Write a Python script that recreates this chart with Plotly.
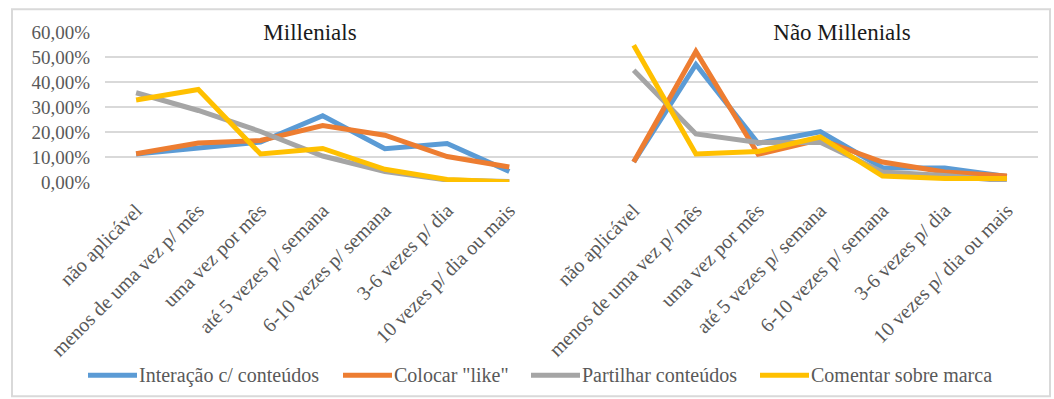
import plotly.graph_objects as go

# Frequency categories (shared by both groups)
categories = [
    "não aplicável",
    "menos de uma vez p/ mês",
    "uma vez por mês",
    "até 5 vezes p/ semana",
    "6-10 vezes p/ semana",
    "3-6 vezes p/ dia",
    "10 vezes p/ dia ou mais",
]

series_names = ["Interação c/ conteúdos", 'Colocar "like"', "Partilhar conteúdos", "Comentar sobre marca"]
series_colors = ["#5B9BD5", "#ED7D31", "#A5A5A5", "#FFC000"]

# Millenials (%)
interacao_mil = [11.2, 13.8, 16.0, 26.5, 13.3, 15.4, 4.2]
like_mil = [11.3, 15.6, 16.6, 22.6, 18.7, 10.2, 6.0]
partilhar_mil = [35.7, 28.6, 20.2, 10.4, 4.2, 0.8, 0.2]
comentar_mil = [32.8, 37.0, 11.2, 13.4, 5.1, 1.0, 0.0]

# Não Millenials (%)
interacao_nao = [8.0, 47.0, 15.5, 20.1, 5.7, 5.6, 2.2]
like_nao = [8.0, 52.2, 11.1, 17.0, 8.0, 4.0, 2.4]
partilhar_nao = [44.7, 19.2, 15.8, 15.9, 4.0, 2.6, 0.4]
comentar_nao = [54.7, 11.2, 12.2, 18.0, 2.4, 1.4, 1.4]

# Y ticks
y_ticks = [0, 10, 20, 30, 40, 50, 60]
y_tick_labels = ["0,00%", "10,00%", "20,00%", "30,00%", "40,00%", "50,00%", "60,00%"]

mil_values = [interacao_mil, like_mil, partilhar_mil, comentar_mil]
nao_values = [interacao_nao, like_nao, partilhar_nao, comentar_nao]

# Two groups on one axis, separated by an empty slot
n = len(categories)
x_mil = list(range(n))
x_nao = list(range(n + 1, 2 * n + 1))
x_all = x_mil + [n] + x_nao

SERIF = "Liberation Serif"
LABEL_GREY = "#595959"
GRID = "#D9D9D9"

# Pixel geometry of the plotting area
W, H = 1054, 399
PL, PR, PT, PB = 105, 1038, 31.7, 181.7


def px_x(v):
    return (v - PL) / (PR - PL)


def px_y(v):
    return (PB - v) / (PB - PT)


fig = go.Figure()
for name, color, ym, yn in zip(series_names, series_colors, mil_values, nao_values):
    fig.add_trace(go.Scatter(
        x=x_all,
        y=ym + [None] + yn,
        mode="lines",
        name=name,
        connectgaps=False,
        showlegend=False,
        line=dict(color=color, width=5),
    ))

# Group titles sitting on the top gridline
fig.add_annotation(x=px_x(310), y=1.0, xref="paper", yref="paper",
                   text="Millenials", showarrow=False, bgcolor="white", width=172,
                   font=dict(family=SERIF, size=23, color="#1a1a1a"),
                   xanchor="center", yanchor="middle")
fig.add_annotation(x=px_x(842), y=1.0, xref="paper", yref="paper",
                   text="Não Millenials", showarrow=False, bgcolor="white", width=190,
                   font=dict(family=SERIF, size=23, color="#1a1a1a"),
                   xanchor="center", yanchor="middle")

# Legend row along the bottom
legend_starts = [88, 343, 531, 760]
legend_key_len = 49
legend_y = 375
for name, color, x0 in zip(series_names, series_colors, legend_starts):
    fig.add_shape(type="line", xref="paper", yref="paper",
                  x0=px_x(x0), x1=px_x(x0 + legend_key_len),
                  y0=px_y(legend_y), y1=px_y(legend_y),
                  line=dict(color=color, width=5))
    fig.add_annotation(x=px_x(x0 + legend_key_len), y=px_y(legend_y),
                       xref="paper", yref="paper", text=name, showarrow=False,
                       xanchor="left", yanchor="middle",
                       font=dict(family=SERIF, size=20, color=LABEL_GREY))

# Outer frame
fig.add_shape(type="rect", xref="paper", yref="paper",
              x0=px_x(12), x1=px_x(1050),
              y0=px_y(396), y1=px_y(9),
              line=dict(color=GRID, width=2), fillcolor="rgba(0,0,0,0)", layer="below")

fig.update_layout(
    width=W,
    height=H,
    margin=dict(l=PL, r=W - PR, t=PT, b=H - PB),
    paper_bgcolor="white",
    plot_bgcolor="white",
    font=dict(family=SERIF, color=LABEL_GREY),
    showlegend=False,
    xaxis=dict(
        range=[-0.5, 2 * n + 0.5],
        tickmode="array",
        tickvals=x_mil + x_nao,
        ticktext=categories + categories,
        tickangle=-45,
        tickfont=dict(family=SERIF, size=20, color=LABEL_GREY),
        ticklabelstandoff=12,
        showgrid=False,
        zeroline=False,
        showline=False,
        ticks="",
        automargin=False,
        fixedrange=True,
    ),
    yaxis=dict(
        range=[0, 60],
        tickmode="array",
        tickvals=y_ticks,
        ticktext=y_tick_labels,
        tickfont=dict(family=SERIF, size=19, color=LABEL_GREY),
        ticklabelstandoff=14,
        showgrid=True,
        gridcolor=GRID,
        gridwidth=2,
        zeroline=False,
        showline=False,
        ticks="",
        automargin=False,
        fixedrange=True,
    ),
)

fig.write_html("out.html")
